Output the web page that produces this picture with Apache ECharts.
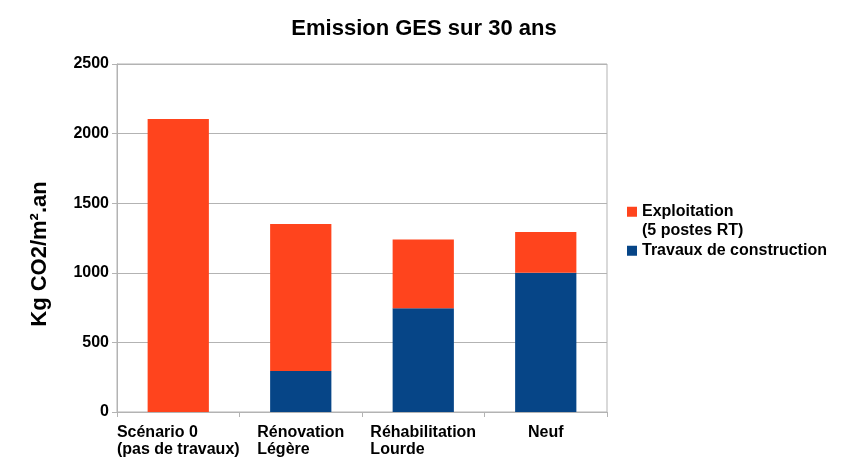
<!DOCTYPE html>
<html>
<head>
<meta charset="utf-8">
<script src="https://cdn.jsdelivr.net/npm/echarts@6/dist/echarts.min.js"></script>
<style>
  html, body { margin: 0; padding: 0; background: #fff; }
  #main { width: 848px; height: 463px; }
</style>
</head>
<body>
<div id="main"></div>
<script>
var categories = ['Scénario 0\n(pas de travaux)', 'Rénovation\nLégère', 'Réhabilitation\nLourde', 'Neuf'];
var travaux = [0, 295, 745, 1000];          // Travaux de construction
var exploitation = [2105, 1055, 495, 293];  // Exploitation (5 postes RT)
var yTicks = [0, 500, 1000, 1500, 2000, 2500];
var seriesNames = ['Exploitation\n(5 postes RT)', 'Travaux de construction'];

var font = 'Liberation Sans';
var grey = '#b3b3b3';

var myChart = echarts.init(document.getElementById('main'));
var option = {
	backgroundColor: '#fff',
	animation: false,
	title: {
		text: 'Emission GES sur 30 ans',
		left: 'center',
		top: 13,
		textStyle: { fontFamily: font, fontSize: 22, fontWeight: 'bold', color: '#000' }
	},
	legend: {
		orient: 'vertical',
		left: 622,
		top: 179,
		itemWidth: 10,
		itemHeight: 10,
		itemGap: 2,
		icon: 'rect',
		textStyle: { fontFamily: font, fontSize: 16, fontWeight: 'bold', color: '#000', lineHeight: 18.5 },
		// blank first line so the square sits beside the first text line
		formatter: function (name) {
			return name.indexOf('\n') >= 0 ? ' \n' + name : name;
		},
		data: seriesNames
	},
	grid: {
		left: 117, right: 241, top: 64, bottom: 51,
		show: true, borderColor: grey, borderWidth: 1
	},
	xAxis: {
		type: 'category',
		data: categories,
		axisLine: { lineStyle: { color: grey } },
		axisTick: { show: true, interval: 0, length: 5, lineStyle: { color: grey } },
		axisLabel: {
			interval: 0,
			margin: 12,
			formatter: function (v) {
				return v.split('\n').map(function (l) { return '{a|' + l + '}'; }).join('\n');
			},
			rich: {
				a: { align: 'left', fontFamily: font, fontSize: 16, fontWeight: 'bold', color: '#000', lineHeight: 17 }
			}
		}
	},
	yAxis: {
		type: 'value',
		min: yTicks[0],
		max: yTicks[yTicks.length - 1],
		interval: 500,
		name: 'Kg CO2/m².an',
		nameLocation: 'middle',
		nameRotate: 90,
		nameGap: 66,
		nameTextStyle: { fontFamily: font, fontSize: 22, fontWeight: 'bold', color: '#000', padding: [0, 32, 0, 0] },
		axisLine: { show: true, lineStyle: { color: grey } },
		axisTick: { show: true, length: 5, lineStyle: { color: grey } },
		axisLabel: {
			margin: 8, fontFamily: font, fontSize: 16, fontWeight: 'bold', color: '#000',
			formatter: function (v) { return String(v); }
		},
		splitLine: { lineStyle: { color: grey } }
	},
	series: [
		{
			name: seriesNames[1],
			type: 'bar',
			stack: 'total',
			barWidth: '50%',
			itemStyle: { color: '#064587' },
			data: travaux
		},
		{
			name: seriesNames[0],
			type: 'bar',
			stack: 'total',
			barWidth: '50%',
			itemStyle: { color: '#ff441d' },
			data: exploitation
		}
	]
};
myChart.setOption(option);
</script>
</body>
</html>
